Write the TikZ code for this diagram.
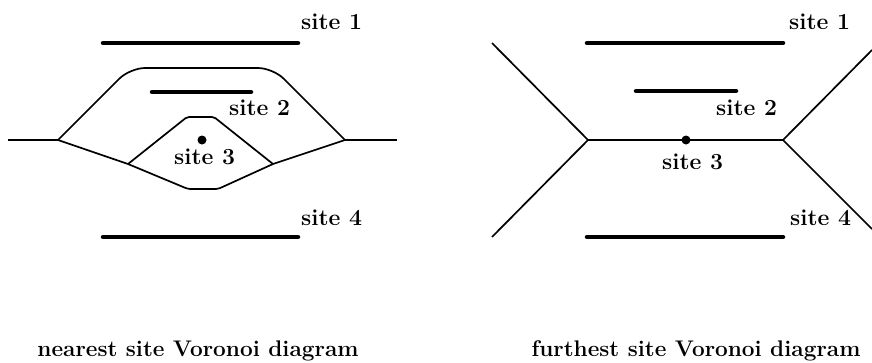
\documentclass[tikz,border=0pt]{standalone}
\begin{document}
\begin{tikzpicture}[x=1pt,y=-1pt,
  lbl/.style={font=\fontsize{23}{27}\selectfont\bfseries, inner sep=0pt, anchor=west},
  captext/.style={font=\fontsize{22.6}{27}\selectfont\bfseries, inner sep=0pt},
  sitebar/.style={line width=4.5pt, line cap=round},
  sitedot/.style={circle, fill, inner sep=0pt, minimum size=9pt},
  edge/.style={line width=1.7pt, line join=round}]
\useasboundingbox (0,0) rectangle (872,362);
% ---------- left: nearest site ----------
\coordinate (a1) at (103,43); \coordinate (b1) at (298,43);
\coordinate (a2) at (152,92); \coordinate (b2) at (251,92);
\coordinate (a4) at (103,237); \coordinate (b4) at (298,237);
\draw[sitebar] (a1) -- (b1);
\draw[sitebar] (a2) -- (b2);
\draw[sitebar] (a4) -- (b4);
\node[sitedot] (p3) at (202,140) {};
\node[lbl] (l1) at (301,22) {site 1};
\node[lbl] (l2) at (229,108) {site 2};
\node[lbl] (l3) at (174,157) {site 3};
\node[lbl] (l4) at (301,218) {site 4};
\coordinate (L0) at (8,140);
\coordinate (L1) at (58,140);
\coordinate (R1) at (345,140);
\coordinate (R0) at (397,140);
\coordinate (TL) at (130,68);
\coordinate (TR) at (273,68);
\coordinate (ML) at (128,164);
\coordinate (MR) at (273,164);
\coordinate (IT1) at (187,117);
\coordinate (IT2) at (214,117);
\coordinate (IB1) at (188,189);
\coordinate (IB2) at (218,189);
\draw[edge] (L0) -- (L1);
\draw[edge] (R1) -- (R0);
\draw[edge, rounded corners=15pt] (L1) -- (TL) -- (TR) -- (R1);
\draw[edge] (L1) -- (ML);
\draw[edge] (R1) -- (MR);
\draw[edge, rounded corners=2pt] (ML) -- (IT1) -- (IT2) -- (MR);
\draw[edge, rounded corners=2pt] (ML) -- (IB1) -- (IB2) -- (MR);
% ---------- right: furthest site ----------
\coordinate (c1) at (587,43); \coordinate (d1) at (783,43);
\coordinate (c2) at (636,91); \coordinate (d2) at (736,91);
\coordinate (c4) at (587,237); \coordinate (d4) at (783,237);
\draw[sitebar] (c1) -- (d1);
\draw[sitebar] (c2) -- (d2);
\draw[sitebar] (c4) -- (d4);
\node[lbl] (m1) at (789,22) {site 1};
\node[lbl] (m2) at (716,108) {site 2};
\node[lbl] (m3) at (662,162) {site 3};
\node[lbl] (m4) at (790,218) {site 4};
\coordinate (FL) at (588,140);
\coordinate (FR) at (783,140);
\coordinate (FLa) at (492,43);
\coordinate (FLb) at (492,237);
\coordinate (FRa) at (872,50);
\coordinate (FRb) at (872,229);
\draw[edge] (FLa) -- (FL) -- (FLb);
\draw[edge] (FRa) -- (FR) -- (FRb);
\draw[edge] (FL) -- (FR);
\node[sitedot] (q3) at (686,140) {};
% ---------- captions ----------
\node[captext] (c-left) at (198,351) {nearest site Voronoi diagram};
\node[captext] (c-right) at (696,351) {furthest site Voronoi diagram};
\end{tikzpicture}
\end{document}
